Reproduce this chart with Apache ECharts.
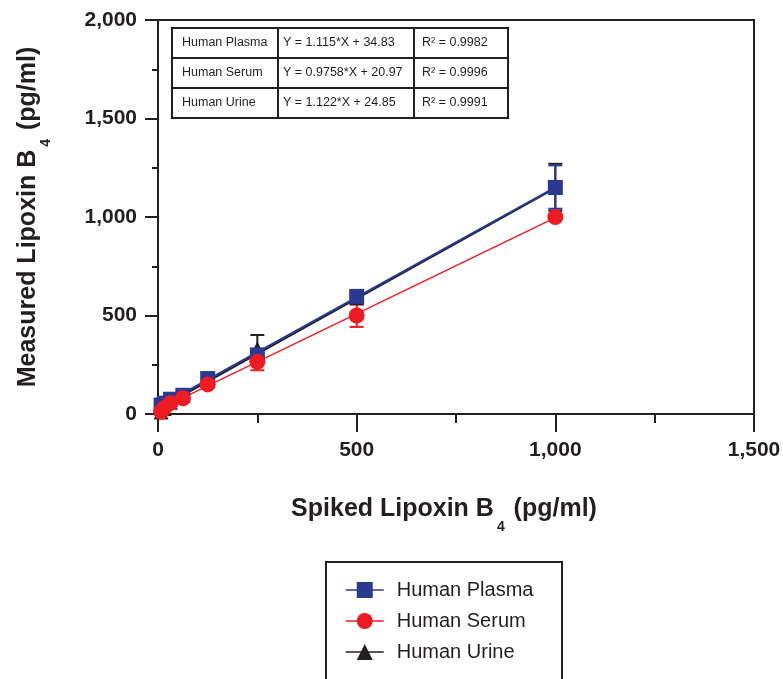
<!DOCTYPE html>
<html>
<head>
<meta charset="UTF-8">
<title>Lipoxin B4 spike recovery</title>
<script src="https://cdn.jsdelivr.net/npm/echarts@6.0.0/dist/echarts.min.js"></script>
<style>
  html, body { margin: 0; padding: 0; background: #fff; }
  #chart { width: 783px; height: 679px; }
</style>
</head>
<body>
<div id="chart"></div>
<script>
// spiked concentrations (pg/ml)
const spiked = [7.8, 15.6, 31.25, 62.5, 125, 250, 500, 1000];
const plasma = [45, 55, 75, 95, 180, 300, 597, 1150];
const serum = [12, 30, 55, 80, 150, 265, 500, 1000];
const urine = [10, 28, 60, 95, 170, 330, 590, 1150];

// error bars: [spiked, low, high]
const plasmaErr = [[1000, 1042, 1262]];
const serumErr = [[250, 222, 310], [500, 442, 556], [1000, 990, 1010]];
const urineErr = [[250, 260, 401], [1000, 1032, 1270]];

// regression lines, end points
const plasmaFit = [[0, 35], [1000, 1150]];
const serumFit = [[0, 21], [1000, 997]];
const urineFit = [[0, 25], [1000, 1147]];

const seriesNames = ['Human Plasma', 'Human Serum', 'Human Urine'];
const tableRows = [
    ['Human Plasma', 'Y = 1.115*X + 34.83', 'R\u00b2 = 0.9982'],
    ['Human Serum', 'Y = 0.9758*X + 20.97', 'R\u00b2 = 0.9996'],
    ['Human Urine', 'Y = 1.122*X + 24.85', 'R\u00b2 = 0.9991']
];

const BLUE = '#2b3990';
const RED = '#ed1c24';
const BLACK = '#231f20';
const FONT = 'Liberation Sans, Arial, sans-serif';

const chart = echarts.init(document.getElementById('chart'));

function errorBars(color) {
    return function (params, api) {
        const x = api.value(0);
        const lo = api.coord([x, api.value(1)]);
        const hi = api.coord([x, api.value(2)]);
        const w = 7;
        const style = { stroke: color, lineWidth: 2 };
        return {
            type: 'group',
            children: [
                { type: 'line', shape: { x1: lo[0], y1: lo[1], x2: hi[0], y2: hi[1] }, style: style },
                { type: 'line', shape: { x1: lo[0] - w, y1: lo[1], x2: lo[0] + w, y2: lo[1] }, style: style },
                { type: 'line', shape: { x1: hi[0] - w, y1: hi[1], x2: hi[0] + w, y2: hi[1] }, style: style }
            ]
        };
    };
}

function pairs(ys) {
    return spiked.map((x, i) => [x, ys[i]]);
}

// table drawn as graphic elements
const tbl = { x: 172, y: 28, colX: [172, 278, 414, 508], rowH: 30, pad: [10, 5, 8] };
const tableGraphics = [];
tableGraphics.push({
    type: 'rect',
    shape: { x: tbl.x, y: tbl.y, width: tbl.colX[3] - tbl.x, height: tbl.rowH * 3 },
    style: { fill: '#fff', stroke: BLACK, lineWidth: 2 },
    z: 10
});
[1, 2].forEach(c => {
    tableGraphics.push({
        type: 'line',
        shape: { x1: tbl.colX[c], y1: tbl.y, x2: tbl.colX[c], y2: tbl.y + tbl.rowH * 3 },
        style: { stroke: BLACK, lineWidth: 2 },
        z: 10
    });
});
[1, 2].forEach(r => {
    tableGraphics.push({
        type: 'line',
        shape: { x1: tbl.x, y1: tbl.y + tbl.rowH * r, x2: tbl.colX[3], y2: tbl.y + tbl.rowH * r },
        style: { stroke: BLACK, lineWidth: 2 },
        z: 10
    });
});
tableRows.forEach((row, r) => {
    row.forEach((txt, c) => {
        tableGraphics.push({
            type: 'text',
            x: tbl.colX[c] + tbl.pad[c],
            y: tbl.y + tbl.rowH * r + tbl.rowH / 2,
            style: { text: txt, fill: BLACK, font: '12.5px ' + FONT, textVerticalAlign: 'middle' },
            z: 11
        });
    });
});

// legend frame
tableGraphics.push({
    type: 'rect',
    shape: { x: 326, y: 562, width: 236, height: 140 },
    style: { fill: 'none', stroke: BLACK, lineWidth: 2 },
    z: 5
});

// subscript 4 sits below the baseline
const nameStyle = {
    fontSize: 25, fontWeight: 'bold', color: BLACK, fontFamily: FONT,
    rich: {
        sub: {
            fontSize: 14, fontWeight: 'bold', color: BLACK, fontFamily: FONT,
            verticalAlign: 'bottom', padding: [36, 2, 0, 3]
        }
    }
};
// x title sits a little left of the axis centre
const xNameStyle = Object.assign({}, nameStyle, { padding: [0, 24, 0, 0] });

const option = {
    animation: false,
    backgroundColor: '#fff',
    grid: {
        left: 158, right: 29, top: 20, bottom: 265,
        outerBoundsMode: 'none',
        show: true, borderColor: BLACK, borderWidth: 2, backgroundColor: 'transparent'
    },
    legend: {
        data: seriesNames,
        orient: 'vertical',
        left: 340,
        top: 575,
        itemWidth: 38,
        itemHeight: 20,
        itemGap: 11,
        lineStyle: { width: 1.5 },
        textStyle: { fontSize: 20, color: BLACK, fontFamily: FONT, padding: [0, 0, 0, 8] }
    },
    xAxis: {
        type: 'value',
        min: 0, max: 1500, interval: 500,
        name: 'Spiked Lipoxin B{sub|4} (pg/ml)',
        nameLocation: 'middle',
        nameGap: 70,
        nameTextStyle: xNameStyle,
        axisLine: { onZero: false, lineStyle: { color: BLACK, width: 2 } },
        axisTick: { length: 18, lineStyle: { color: BLACK, width: 2 } },
        minorTick: { show: true, splitNumber: 2, length: 9, lineStyle: { color: BLACK, width: 2 } },
        axisLabel: {
            margin: 26, fontSize: 21, fontWeight: 'bold', color: BLACK, fontFamily: FONT,
            formatter: v => v.toLocaleString('en-US')
        },
        splitLine: { show: false }
    },
    yAxis: {
        type: 'value',
        min: 0, max: 2000, interval: 500,
        name: 'Measured Lipoxin B{sub|4} (pg/ml)',
        nameLocation: 'middle',
        nameGap: 105,
        nameTextStyle: nameStyle,
        axisLine: { show: true, onZero: false, lineStyle: { color: BLACK, width: 2 } },
        axisTick: { show: true, length: 13, lineStyle: { color: BLACK, width: 2 } },
        minorTick: { show: true, splitNumber: 2, length: 6, lineStyle: { color: BLACK, width: 2 } },
        axisLabel: {
            margin: 21, fontSize: 21, fontWeight: 'bold', color: BLACK, fontFamily: FONT,
            formatter: v => v.toLocaleString('en-US')
        },
        splitLine: { show: false }
    },
    graphic: tableGraphics,
    series: [
        // regression lines
        { name: 'Urine fit', type: 'line', data: urineFit, showSymbol: false, lineStyle: { color: BLACK, width: 2 }, z: 2 },
        { name: 'Plasma fit', type: 'line', data: plasmaFit, showSymbol: false, lineStyle: { color: BLUE, width: 2 }, z: 2 },
        { name: 'Serum fit', type: 'line', data: serumFit, showSymbol: false, lineStyle: { color: RED, width: 1.5 }, z: 2 },
        // error bars
        { type: 'custom', data: urineErr, renderItem: errorBars(BLACK), encode: { x: 0, y: [1, 2] }, z: 3 },
        { type: 'custom', data: plasmaErr, renderItem: errorBars(BLUE), encode: { x: 0, y: [1, 2] }, z: 3 },
        { type: 'custom', data: serumErr, renderItem: errorBars(RED), encode: { x: 0, y: [1, 2] }, z: 3 },
        // measured points
        {
            name: 'Human Urine', type: 'line', data: pairs(urine),
            symbol: 'triangle', symbolSize: 15, showAllSymbol: true,
            itemStyle: { color: BLACK }, lineStyle: { color: BLACK, width: 0 }, z: 4
        },
        {
            name: 'Human Plasma', type: 'line', data: pairs(plasma),
            symbol: 'rect', symbolSize: 15, showAllSymbol: true,
            itemStyle: { color: BLUE }, lineStyle: { color: BLUE, width: 0 }, z: 5
        },
        {
            name: 'Human Serum', type: 'line', data: pairs(serum),
            symbol: 'circle', symbolSize: 16, showAllSymbol: true,
            itemStyle: { color: RED }, lineStyle: { color: RED, width: 0 }, z: 6
        }
    ]
};

chart.setOption(option);
</script>
</body>
</html>
